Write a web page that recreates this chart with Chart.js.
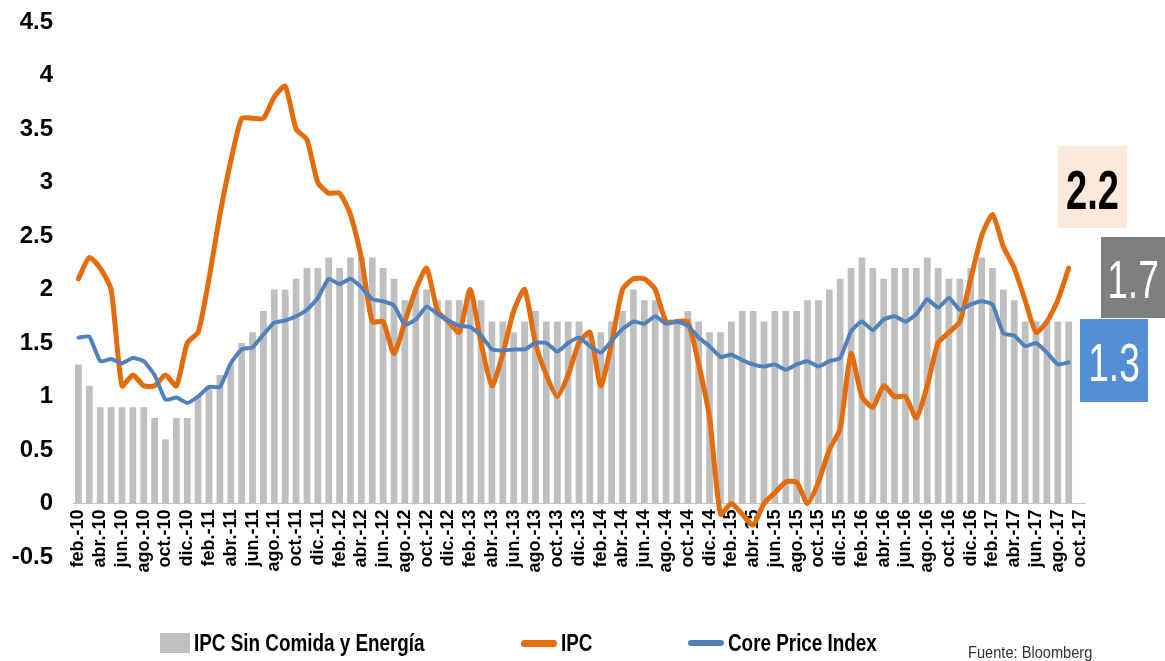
<!DOCTYPE html>
<html>
<head>
<meta charset="utf-8">
<title>IPC vs Core</title>
<script src="https://cdn.jsdelivr.net/npm/chart.js@4.4.0/dist/chart.umd.min.js"></script>
<style>
  html, body { margin: 0; padding: 0; background: #fff; }
  #wrap { position: relative; width: 1165px; height: 661px; overflow: hidden; }
  #chart { position: absolute; left: 0; top: 0; }
  .legend-item { position: absolute; top: 632px; height: 22px; display: flex; align-items: center;
    font: bold 23px 'Liberation Sans', sans-serif; color: #000; white-space: nowrap; }
  .legend-item span { margin-left: 4px; display: inline-block; transform: scaleX(0.82); transform-origin: left center; }
  #source { position: absolute; left: 968px; top: 643px; font: 17px 'Liberation Sans', sans-serif; color: #333;
    transform: scaleX(0.86); transform-origin: left center; white-space: nowrap; }
</style>
</head>
<body>
<div id="wrap">
  <canvas id="chart" width="1165" height="661"></canvas>
  <div id="source">Fuente: Bloomberg</div>
</div>
<script>
// Categories: feb-10 .. oct-17 (oct-17 has no data yet)
const monthNames = ['ene.', 'feb.', 'mar.', 'abr.', 'may.', 'jun.', 'jul.', 'ago.', 'sep.', 'oct.', 'nov.', 'dic.'];
const years = ['10', '11', '12', '13', '14', '15', '16', '17'];
const categories = [];
years.forEach((y, yi) => {
    monthNames.forEach((m, mi) => {
        if (yi === 0 && mi < 1) return;
        if (yi === years.length - 1 && mi > 9) return;
        categories.push(m + '-' + y);
    });
});

// IPC Sin Comida y Energía (bars)
const ipcSinComida = [
    1.3, 1.1, 0.9, 0.9, 0.9, 0.9, 0.9, 0.8, 0.6, 0.8, 0.8,
    1.0, 1.1, 1.2, 1.3, 1.5, 1.6, 1.8, 2.0, 2.0, 2.1, 2.2, 2.2,
    2.3, 2.2, 2.3, 2.3, 2.3, 2.2, 2.1, 1.9, 2.0, 2.0, 1.9, 1.9,
    1.9, 2.0, 1.9, 1.7, 1.7, 1.6, 1.7, 1.8, 1.7, 1.7, 1.7, 1.7,
    1.6, 1.6, 1.7, 1.8, 2.0, 1.9, 1.9, 1.7, 1.7, 1.8, 1.7, 1.6,
    1.6, 1.7, 1.8, 1.8, 1.7, 1.8, 1.8, 1.8, 1.9, 1.9, 2.0, 2.1,
    2.2, 2.3, 2.2, 2.1, 2.2, 2.2, 2.2, 2.3, 2.2, 2.1, 2.1, 2.2,
    2.3, 2.2, 2.0, 1.9, 1.7, 1.7, 1.7, 1.7, 1.7
];

// IPC (orange line)
const ipc = [
    2.1, 2.3, 2.2, 2.0, 1.1, 1.2, 1.1, 1.1, 1.2, 1.1, 1.5,
    1.6, 2.1, 2.7, 3.2, 3.6, 3.6, 3.6, 3.8, 3.9, 3.5, 3.4, 3.0,
    2.9, 2.9, 2.7, 2.3, 1.7, 1.7, 1.4, 1.7, 2.0, 2.2, 1.8, 1.7,
    1.6, 2.0, 1.5, 1.1, 1.4, 1.8, 2.0, 1.5, 1.2, 1.0, 1.2, 1.5,
    1.6, 1.1, 1.5, 2.0, 2.1, 2.1, 2.0, 1.7, 1.7, 1.7, 1.3, 0.8,
    -0.1, 0.0, -0.1, -0.2, 0.0, 0.1, 0.2, 0.2, 0.0, 0.2, 0.5, 0.7,
    1.4, 1.0, 0.9, 1.1, 1.0, 1.0, 0.8, 1.1, 1.5, 1.6, 1.7, 2.1,
    2.5, 2.7, 2.4, 2.2, 1.9, 1.6, 1.7, 1.9, 2.2
];

// Core Price Index (blue line)
const corePriceIndex = [
    1.55, 1.56, 1.33, 1.35, 1.31, 1.36, 1.33, 1.20, 0.97, 0.99, 0.94,
    1.00, 1.09, 1.09, 1.31, 1.44, 1.46, 1.58, 1.69, 1.71, 1.75, 1.81, 1.92,
    2.10, 2.05, 2.10, 2.02, 1.91, 1.89, 1.85, 1.67, 1.72, 1.84, 1.77, 1.71,
    1.66, 1.65, 1.57, 1.44, 1.43, 1.44, 1.44, 1.50, 1.50, 1.42, 1.50, 1.55,
    1.47, 1.41, 1.52, 1.63, 1.70, 1.68, 1.75, 1.68, 1.70, 1.66, 1.55, 1.47,
    1.37, 1.39, 1.34, 1.30, 1.28, 1.30, 1.25, 1.30, 1.33, 1.28, 1.33, 1.36,
    1.61, 1.70, 1.62, 1.72, 1.75, 1.70, 1.77, 1.91, 1.83, 1.92, 1.81, 1.86,
    1.89, 1.86, 1.59, 1.57, 1.47, 1.50, 1.41, 1.30, 1.32
];

// y axis ticks
const yTicks = [-0.5, 0, 0.5, 1, 1.5, 2, 2.5, 3, 3.5, 4, 4.5];

const GRAY = '#bfbfbf';
const ORANGE = '#e46c0a';
const BLUE = '#4f81bd';
const FONT = "'Liberation Sans', sans-serif";

// Tags on the right, showing the last value of each series
const endTags = [
    { dataset: 1, dx: -27, top: 146, w: 69, h: 82, bg: '#fde9d9', color: '#000', font: 'bold 56px', sx: 0.68 },
    { dataset: 0, dx: 16, top: 237, w: 64, h: 81, bg: '#7f7f7f', color: '#fff', font: '53px', sx: 0.7 },
    { dataset: 2, dx: -5, top: 319, w: 68, h: 83, bg: '#558ed5', color: '#fff', font: '53px', sx: 0.7 }
];

const endTagPlugin = {
    id: 'endTags',
    afterDraw(chart) {
        const ctx = chart.ctx;
        const right = chart.chartArea.right;
        endTags.forEach(t => {
            const data = chart.data.datasets[t.dataset].data;
            const text = data[data.length - 1].toFixed(1);
            const size = parseFloat(t.font.replace('bold ', ''));
            ctx.save();
            ctx.fillStyle = t.bg;
            ctx.fillRect(right + t.dx, t.top, t.w, t.h);
            ctx.fillStyle = t.color;
            ctx.font = t.font + ' ' + FONT;
            ctx.textAlign = 'center';
            ctx.textBaseline = 'alphabetic';
            ctx.translate(right + t.dx + t.w / 2, t.top + t.h / 2 + 1.5 + size * 0.716 / 2);
            ctx.scale(t.sx, 1);
            ctx.fillText(text, 0, 0);
            ctx.restore();
        });
    }
};

const ctx = document.getElementById('chart').getContext('2d');
const chart = new Chart(ctx, {
    type: 'bar',
    data: {
        labels: categories,
        datasets: [{
            type: 'bar',
            label: 'IPC Sin Comida y Energía',
            data: ipcSinComida,
            backgroundColor: GRAY,
            barPercentage: 0.62,
            categoryPercentage: 1.0,
            order: 3
        }, {
            type: 'line',
            label: 'IPC',
            data: ipc,
            borderColor: ORANGE,
            backgroundColor: ORANGE,
            borderWidth: 5,
            pointRadius: 0,
            tension: 0.2,
            borderCapStyle: 'round',
            borderJoinStyle: 'round',
            order: 2
        }, {
            type: 'line',
            label: 'Core Price Index',
            data: corePriceIndex,
            borderColor: BLUE,
            backgroundColor: BLUE,
            borderWidth: 4,
            pointRadius: 0,
            tension: 0.15,
            borderCapStyle: 'round',
            borderJoinStyle: 'round',
            order: 1
        }]
    },
    options: {
        responsive: false,
        animation: false,
        layout: { padding: { top: 22, left: 0, right: 80, bottom: 104 } },
        plugins: {
            legend: { display: false },
            tooltip: { enabled: false }
        },
        scales: {
            x: {
                position: { y: 0 },
                grid: { display: false, drawTicks: false },
                border: { display: true, color: '#c8c8c8', width: 1 },
                ticks: {
                    autoSkip: false,
                    minRotation: 90,
                    maxRotation: 90,
                    padding: 6,
                    color: '#000',
                    font: { family: FONT, weight: 'bold', size: 18 },
                    callback: function (val, idx) {
                        return idx % 2 === 0 ? categories[idx] : '';
                    }
                },
                afterFit: (scale) => {
                    scale.height = 0;
                    scale.paddingTop = 0;
                    scale.paddingBottom = 0;
                }
            },
            y: {
                min: yTicks[0],
                max: yTicks[yTicks.length - 1],
                grid: { display: false, drawTicks: false },
                border: { display: false },
                afterBuildTicks: (scale) => { scale.ticks = yTicks.map(v => ({ value: v })); },
                ticks: {
                    padding: 20,
                    color: '#000',
                    font: { family: FONT, weight: 'bold', size: 24 },
                    callback: (v) => String(v)
                },
                afterFit: (scale) => {
                    scale.width = 73;
                    scale.paddingTop = 0;
                    scale.paddingBottom = 0;
                }
            }
        }
    },
    plugins: [endTagPlugin]
});

// HTML legend, built from the datasets
const legendSlots = [
    { left: 160, kind: 'box' },
    { left: 521, kind: 'line' },
    { left: 688, kind: 'line' }
];
const wrap = document.getElementById('wrap');
chart.data.datasets.forEach((ds, i) => {
    const slot = legendSlots[i];
    const item = document.createElement('div');
    item.className = 'legend-item';
    item.style.left = slot.left + 'px';
    const sw = document.createElement('i');
    sw.style.display = 'inline-block';
    if (slot.kind === 'box') {
        sw.style.width = '30px';
        sw.style.height = '20px';
        sw.style.background = ds.backgroundColor;
    } else {
        sw.style.width = '36px';
        sw.style.height = ds.borderWidth + 2 + 'px';
        sw.style.borderRadius = '4px';
        sw.style.background = ds.borderColor;
    }
    const txt = document.createElement('span');
    txt.textContent = ds.label;
    item.appendChild(sw);
    item.appendChild(txt);
    wrap.appendChild(item);
});
</script>
</body>
</html>
